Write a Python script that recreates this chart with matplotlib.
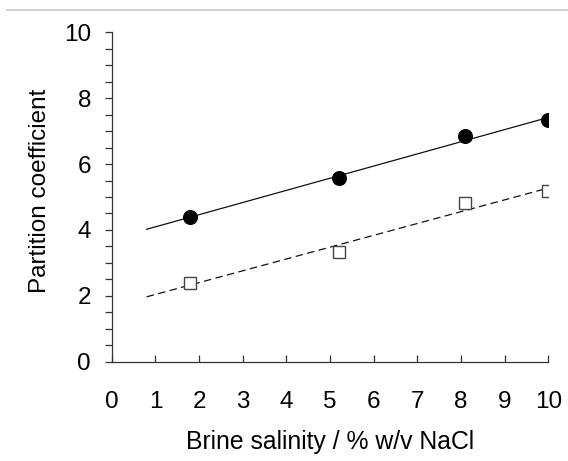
import numpy as np
import matplotlib
matplotlib.use("Agg")
import matplotlib.pyplot as plt
from matplotlib.lines import Line2D

plt.rcParams['font.family'] = ['Liberation Sans', 'DejaVu Sans']

# Brine salinity (% w/v NaCl) and measured partition coefficients
salinity = [1.8, 5.2, 8.1, 10.0]
series_filled = [4.40, 5.57, 6.85, 7.34]
series_open = [2.40, 3.34, 4.81, 5.19]

x_ticks = list(range(0, 11))
y_ticks = [0, 2, 4, 6, 8, 10]

fig = plt.figure(figsize=(5.68, 4.61), dpi=100)
ax = fig.add_axes([0.1967, 0.2154, 0.9653 - 0.1967, 0.930 - 0.2154])

# least-squares trend lines drawn over the measured range
fit_x = np.array([0.8, 10.0])
for ys, ls in ((series_filled, '-'), (series_open, (0, (6, 3.5)))):
    k, b = np.polyfit(salinity, ys, 1)
    ax.plot(fit_x, k * fit_x + b, color='#111111', lw=0.9, linestyle=ls, zorder=2)

ax.plot(salinity, series_filled, 'o', ms=9.8, mfc='black', mec='black', zorder=3)
ax.plot(salinity, series_open, 's', ms=9.2, mfc='white', mec='#444444', mew=1.0, zorder=3)

ax.set_xlim(0, 10)
ax.set_ylim(0, 10)
ax.set_xticks(x_ticks)
ax.set_yticks(y_ticks)
ax.set_yticks(np.arange(0, 10.01, 0.5), minor=True)

ax.spines['top'].set_visible(False)
ax.spines['right'].set_visible(False)
for s in ('left', 'bottom'):
    ax.spines[s].set_color('#333333')
    ax.spines[s].set_linewidth(0.9)

fs = 17.5
ax.tick_params(axis='x', direction='in', length=5, width=0.9, color='#333333',
               labelsize=fs, pad=21)
ax.tick_params(axis='y', which='both', direction='out', length=5, width=0.9,
               color='#333333', labelsize=fs, pad=10)
ax.tick_params(axis='y', which='minor', labelleft=False)

ax.set_xlabel('Brine salinity / % w/v NaCl', fontsize=17.8, labelpad=12)
ax.set_ylabel('Partition coefficient', fontsize=17.5, labelpad=9)
ax.yaxis.label.set_y(0.518)

# thin rule across the top of the figure
fig.add_artist(Line2D([7 / 568, 1.0], [1 - 10 / 461, 1 - 10 / 461],
                      color='#c8c8c8', lw=1.2, transform=fig.transFigure))

fig.savefig('out.png', dpi=100)
